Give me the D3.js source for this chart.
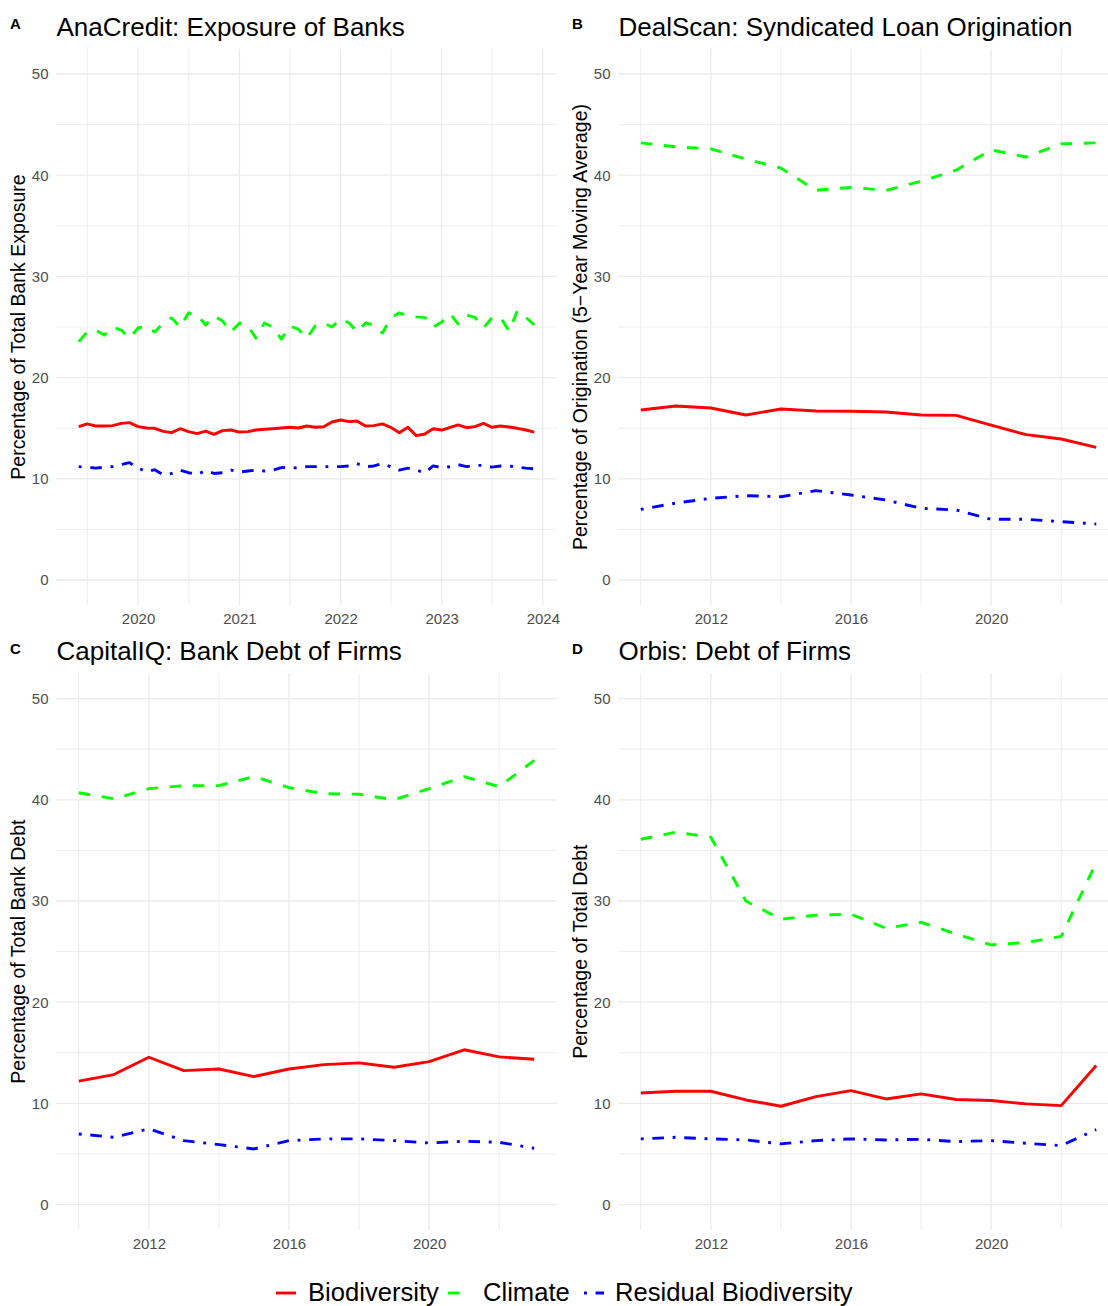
<!DOCTYPE html>
<html>
<head>
<meta charset="utf-8">
<script src="https://cdn.jsdelivr.net/npm/d3@7"></script>
<style>
  body { margin: 0; background: #fff; }
  svg { display: block; font-family: "Liberation Sans", Arial, Helvetica, sans-serif; }
</style>
</head>
<body>
<svg id="chart" width="1108" height="1306"></svg>
<script>
// ---- data ----
// AnaCredit is monthly, Jun 2019 .. Dec 2023
const anaMonths = d3.timeMonth.range(new Date(2019, 5, 1), new Date(2023, 11, 2))
const anaBio = [15.15, 15.42, 15.22, 15.22, 15.25, 15.48, 15.55, 15.15, 15.02, 14.99,
  14.69, 14.56, 14.95, 14.66, 14.46, 14.72, 14.39, 14.76, 14.82, 14.62,
  14.66, 14.82, 14.89, 14.95, 15.02, 15.09, 15.02, 15.22, 15.09, 15.15,
  15.61, 15.81, 15.65, 15.71, 15.22, 15.25, 15.42, 15.09, 14.56, 15.09,
  14.26, 14.43, 14.95, 14.82, 15.09, 15.32, 15.05, 15.15, 15.48, 15.09,
  15.22, 15.12, 14.99, 14.82, 14.62]
const anaClim = [23.55, 24.5, 24.7, 24.2, 25.0, 24.7, 23.9, 24.9, 25.1, 24.5,
  25.4, 25.9, 24.97, 26.4, 26.2, 25.2, 26.1, 25.6, 24.5, 25.4,
  25.1, 23.9, 25.4, 25.0, 23.8, 25.1, 24.8, 23.9, 25.1, 25.4,
  25.0, 25.8, 25.4, 24.5, 25.4, 25.2, 24.4, 25.9, 26.4, 26.1,
  26.0, 25.95, 25.0, 25.5, 26.3, 25.3, 26.2, 25.95, 24.9, 25.9,
  25.95, 24.6, 26.6, 25.95, 25.2]
const anaResid = [11.2, 11.15, 11.05, 11.15, 11.2, 11.4, 11.6, 11.05, 10.7, 10.9,
  10.4, 10.53, 10.86, 10.6, 10.43, 10.8, 10.53, 10.6, 10.86, 10.67,
  10.77, 10.86, 10.77, 10.86, 11.1, 11.15, 11.05, 11.2, 11.2, 11.2,
  11.2, 11.2, 11.27, 11.5, 11.2, 11.27, 11.5, 11.2, 10.86, 11.05,
  10.86, 10.6, 11.27, 11.1, 11.2, 11.4, 11.2, 11.33, 11.33, 11.15,
  11.27, 11.27, 11.15, 11.05, 10.98]

// the other three sources are yearly
const years = [2010, 2011, 2012, 2013, 2014, 2015, 2016, 2017, 2018, 2019, 2020, 2021, 2022, 2023]
const dealBio = [16.8, 17.2, 17.0, 16.3, 16.9, 16.7, 16.67, 16.6, 16.3, 16.27, 15.3, 14.36, 13.93, 13.1]
const dealClim = [43.2, 42.8, 42.6, 41.6, 40.7, 38.5, 38.8, 38.5, 39.4, 40.5, 42.5, 41.8, 43.1, 43.2]
const dealResid = [6.98, 7.6, 8.07, 8.33, 8.23, 8.83, 8.4, 7.9, 7.08, 6.92, 6.0, 6.0, 5.77, 5.53]

const capBio = [12.2, 12.85, 14.56, 13.24, 13.4, 12.65, 13.4, 13.83, 14.0, 13.57, 14.13, 15.3, 14.6, 14.36]
const capClim = [40.7, 40.1, 41.1, 41.4, 41.4, 42.3, 41.2, 40.6, 40.55, 40.0, 41.1, 42.3, 41.3, 43.9]
const capResid = [6.98, 6.65, 7.48, 6.32, 5.93, 5.5, 6.32, 6.49, 6.49, 6.32, 6.09, 6.26, 6.16, 5.57]

const orbBio = [11.03, 11.2, 11.2, 10.34, 9.72, 10.67, 11.26, 10.44, 10.94, 10.38, 10.28, 9.95, 9.78, 13.74]
const orbClim = [36.1, 36.8, 36.3, 30.0, 28.2, 28.6, 28.7, 27.3, 27.9, 26.75, 25.66, 25.9, 26.5, 33.8]
const orbResid = [6.49, 6.65, 6.49, 6.39, 6.0, 6.32, 6.49, 6.39, 6.45, 6.23, 6.32, 6.06, 5.83, 7.41]

const seriesNames = ['Biodiversity', 'Climate', 'Residual Biodiversity']
const yTicks = [0, 10, 20, 30, 40, 50]
const yMinor = [5, 15, 25, 35, 45]
const yearTicks = [2012, 2016, 2020]
const yearMinor = [2010, 2014, 2018, 2022]

// ---- styles ----
const colors = ['#ff0000', '#00ff00', '#0000ff']
const lw = 2.9
const dashes = [null, `${4 * lw} ${4 * lw}`, `${lw} ${3 * lw} ${4 * lw} ${3 * lw}`]
const grid = '#ebebeb'

const svg = d3.select('#chart')
const panelW = 501
const panelH = 556.6

const panels = [
  { tag: 'A', title: 'AnaCredit: Exposure of Banks', ylab: 'Percentage of Total Bank Exposure',
    left: 56, top: 48.7, time: true, xs: anaMonths, vals: [anaBio, anaClim, anaResid] },
  { tag: 'B', title: 'DealScan: Syndicated Loan Origination', ylab: 'Percentage of Origination (5\u2212Year Moving Average)',
    left: 618, top: 48.7, xs: years, vals: [dealBio, dealClim, dealResid] },
  { tag: 'C', title: 'CapitalIQ: Bank Debt of Firms', ylab: 'Percentage of Total Bank Debt',
    left: 56, top: 673.3, xs: years, vals: [capBio, capClim, capResid] },
  { tag: 'D', title: 'Orbis: Debt of Firms', ylab: 'Percentage of Total Debt',
    left: 618, top: 673.3, xs: years, vals: [orbBio, orbClim, orbResid] }
]

panels.forEach(p => {
  const g = svg.append('g')
  const y = d3.scaleLinear().domain([-2.5, 52.5]).range([p.top + panelH, p.top])

  let x, majors, minors, fmt
  if (p.time) {
    const [a, b] = d3.extent(p.xs)
    const pad = (b - a) * 0.05
    x = d3.scaleTime().domain([new Date(+a - pad), new Date(+b + pad)]).range([p.left, p.left + panelW])
    majors = d3.timeYear.range(new Date(2020, 0, 1), new Date(2024, 0, 2))
    minors = d3.range(2019, 2024).map(yr => new Date(yr, 6, 2))
    fmt = d3.timeFormat('%Y')
  } else {
    const [a, b] = d3.extent(p.xs)
    const pad = (b - a) * 0.05
    x = d3.scaleLinear().domain([a - pad, b + pad]).range([p.left, p.left + panelW])
    majors = yearTicks
    minors = yearMinor
    fmt = d3.format('d')
  }

  // grid
  g.append('g').selectAll('line').data(yMinor).join('line')
    .attr('x1', p.left).attr('x2', p.left + panelW)
    .attr('y1', d => y(d)).attr('y2', d => y(d))
    .attr('stroke', grid).attr('stroke-width', 0.9)
  g.append('g').selectAll('line').data(minors).join('line')
    .attr('x1', d => x(d)).attr('x2', d => x(d))
    .attr('y1', p.top).attr('y2', p.top + panelH)
    .attr('stroke', grid).attr('stroke-width', 0.9)
  g.append('g').selectAll('line').data(yTicks).join('line')
    .attr('x1', p.left).attr('x2', p.left + panelW)
    .attr('y1', d => y(d)).attr('y2', d => y(d))
    .attr('stroke', grid).attr('stroke-width', 1.3)
  g.append('g').selectAll('line').data(majors).join('line')
    .attr('x1', d => x(d)).attr('x2', d => x(d))
    .attr('y1', p.top).attr('y2', p.top + panelH)
    .attr('stroke', grid).attr('stroke-width', 1.3)

  // axes (no ticks, no domain)
  const ax = g.append('g')
    .attr('transform', `translate(0,${p.top + panelH})`)
    .call(d3.axisBottom(x).tickValues(majors).tickFormat(fmt).tickSize(0).tickPadding(8.2))
  const ay = g.append('g')
    .attr('transform', `translate(${p.left},0)`)
    .call(d3.axisLeft(y).tickValues(yTicks).tickSize(0).tickPadding(7.5))
  ;[ax, ay].forEach(a => {
    a.select('.domain').remove()
    a.selectAll('text').attr('fill', '#4d4d4d').style('font-size', '15px')
      .style('font-family', '"Liberation Sans", Arial, sans-serif')
  })

  // lines
  const line = d3.line().x(d => x(d[0])).y(d => y(d[1]))
  p.vals.forEach((vals, i) => {
    g.append('path')
      .datum(vals.map((v, j) => [p.xs[j], v]))
      .attr('d', line)
      .attr('fill', 'none')
      .attr('stroke', colors[i])
      .attr('stroke-width', lw)
      .attr('stroke-dasharray', dashes[i])
      .attr('stroke-linejoin', 'round')
      .attr('stroke-linecap', 'butt')
  })

  // labels
  g.append('text').attr('x', p.left - 46).attr('y', p.top - 19.4)
    .attr('font-size', 15).attr('font-weight', 'bold').text(p.tag)
  g.append('text').attr('x', p.left + 0.5).attr('y', p.top - 13.2)
    .attr('font-size', 26).text(p.title)
  g.append('text')
    .attr('transform', `translate(${p.left - 31},${p.top + panelH / 2}) rotate(-90)`)
    .attr('text-anchor', 'middle')
    .attr('font-size', 19.5).text(p.ylab)
})

// legend
const legendX = [276, 448, 584]
const textX = [308, 483, 615]
const legend = svg.append('g').attr('transform', 'translate(0,1293)')
seriesNames.forEach((name, i) => {
  legend.append('line')
    .attr('x1', legendX[i]).attr('x2', legendX[i] + 20)
    .attr('stroke', colors[i]).attr('stroke-width', lw)
    .attr('stroke-dasharray', dashes[i])
  legend.append('text')
    .attr('x', textX[i]).attr('y', 7.5)
    .attr('font-size', 25.6).text(name)
})
</script>
</body>
</html>
